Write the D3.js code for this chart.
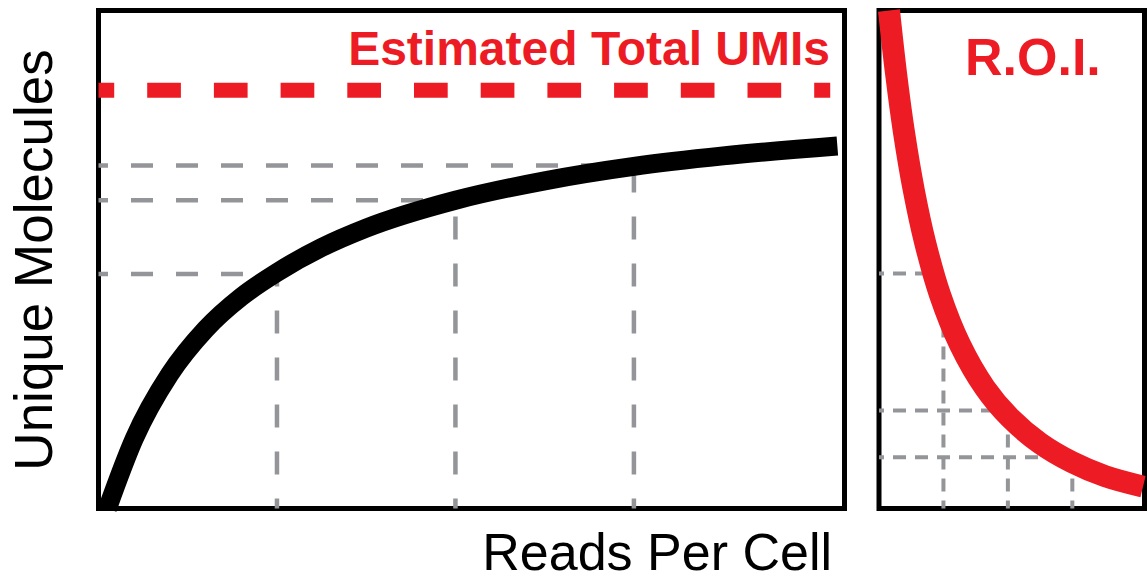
<!DOCTYPE html>
<html>
<head>
<meta charset="utf-8">
<script src="https://cdn.jsdelivr.net/npm/d3@7"></script>
<style>
  html, body { margin: 0; padding: 0; background: #fff; }
  #chart { width: 1147px; height: 581px; }
  text { font-family: "Liberation Sans", Arial, Helvetica, sans-serif; }
</style>
</head>
<body>
<div id="chart"></div>
<script>
// saturation curve (left panel)
const readsPerCell = [0.05, 0.2, 0.4, 0.6, 0.8, 1.0, 1.25, 1.5, 2.0, 2.5, 3.0, 3.5, 4.14];
const uniqueMolecules = [0, 14.0, 27.0, 36.0, 42.5, 47.4, 52.4, 56.3, 61.9, 65.8, 68.7, 70.8, 72.8];
const estimatedTotal = 84.0;
const estimatedTotalEnd = 4.10;

// guide points on the saturation curve
const guideReads = [1, 2, 3];
const guideMolecules = [47.1, 61.9, 68.9];

// return on investment curve (right panel)
const roiX = [0.155, 0.264, 0.388, 0.543, 0.714, 0.947, 1.257, 1.645, 2.033, 2.499, 2.995, 3.507, 4.097];
const roiY = [100, 87.4, 75.5, 63.7, 53.5, 42.9, 32.9, 24.2, 18.2, 13.1, 9.3, 6.5, 4.4];

// guide points on the R.O.I. curve
const roiGuideX = [1, 2, 3];
const roiGuideY = [47.2, 19.7, 10.3];

const labels = {
    total: "Estimated Total UMIs",
    roi: "R.O.I.",
    x: "Reads Per Cell",
    y: "Unique Molecules"
};

function renderChart(containerSelector) {
    const container = d3.select(containerSelector);
    const width = 1147;
    const height = 581;

    container.selectAll("*").remove();

    const svg = container.append("svg")
        .attr("width", width)
        .attr("height", height);

    const red = "#ed1c24";
    const gray = "#939598";

    const y = d3.scaleLinear().domain([0, 100]).range([508.5, 10.5]);
    const x = d3.scaleLinear().domain([0, 4.18]).range([98.5, 844.5]);
    const xr = d3.scaleLinear().domain([0, 4.12]).range([879, 1144.5]);

    // Frames
    [x, xr].forEach(sc => {
        svg.append("rect")
            .attr("x", sc.range()[0])
            .attr("y", y.range()[1])
            .attr("width", sc.range()[1] - sc.range()[0])
            .attr("height", y.range()[0] - y.range()[1])
            .attr("fill", "#fff")
            .attr("stroke", "#000")
            .attr("stroke-width", 5);
    });

    // Left guides
    const guides = guideReads.map((g, i) => ({ gx: g, gy: guideMolecules[i] }));
    svg.selectAll(".vguide")
        .data(guides)
        .join("line")
        .attr("class", "vguide")
        .attr("x1", d => x(d.gx)).attr("x2", d => x(d.gx))
        .attr("y1", y(0)).attr("y2", d => y(d.gy))
        .attr("stroke", gray).attr("stroke-width", 4.5)
        .attr("stroke-dasharray", "23,24").attr("stroke-dashoffset", 13);
    svg.selectAll(".hguide")
        .data(guides)
        .join("line")
        .attr("class", "hguide")
        .attr("x1", x(0)).attr("x2", d => x(d.gx))
        .attr("y1", d => y(d.gy)).attr("y2", d => y(d.gy))
        .attr("stroke", gray).attr("stroke-width", 4.5)
        .attr("stroke-dasharray", "22,23").attr("stroke-dashoffset", 12.5);

    // Right guides
    const roiGuides = roiGuideX.map((g, i) => ({ gx: g, gy: roiGuideY[i] }));
    svg.selectAll(".vguide-r")
        .data(roiGuides)
        .join("line")
        .attr("class", "vguide-r")
        .attr("x1", d => xr(d.gx)).attr("x2", d => xr(d.gx))
        .attr("y1", y(0)).attr("y2", d => y(d.gy))
        .attr("stroke", gray).attr("stroke-width", 4)
        .attr("stroke-dasharray", "13,9").attr("stroke-dashoffset", 5);
    svg.selectAll(".hguide-r")
        .data(roiGuides)
        .join("line")
        .attr("class", "hguide-r")
        .attr("x1", xr(0)).attr("x2", d => xr(d.gx))
        .attr("y1", d => y(d.gy)).attr("y2", d => y(d.gy))
        .attr("stroke", gray).attr("stroke-width", 4)
        .attr("stroke-dasharray", "13,9").attr("stroke-dashoffset", 8);

    // Estimated total line
    svg.append("line")
        .attr("x1", x(0)).attr("x2", x(estimatedTotalEnd))
        .attr("y1", y(estimatedTotal)).attr("y2", y(estimatedTotal))
        .attr("stroke", red).attr("stroke-width", 15)
        .attr("stroke-dasharray", "33.7,33").attr("stroke-dashoffset", 18);

    // Curves
    const satLine = d3.line()
        .x(d => x(d[0]))
        .y(d => y(d[1]))
        .curve(d3.curveMonotoneX);
    svg.append("path")
        .datum(d3.zip(readsPerCell, uniqueMolecules))
        .attr("d", satLine)
        .attr("fill", "none")
        .attr("stroke", "#000")
        .attr("stroke-width", 19);

    const roiLine = d3.line()
        .x(d => xr(d[0]))
        .y(d => y(d[1]))
        .curve(d3.curveCatmullRom.alpha(0.5));
    svg.append("path")
        .datum(d3.zip(roiX, roiY))
        .attr("d", roiLine)
        .attr("fill", "none")
        .attr("stroke", red)
        .attr("stroke-width", 22);

    // Labels
    svg.append("text")
        .attr("x", 830).attr("y", 65)
        .attr("text-anchor", "end")
        .style("font-size", "48px").style("font-weight", "bold")
        .attr("fill", red)
        .text(labels.total);

    svg.append("text")
        .attr("x", 965).attr("y", 75)
        .style("font-size", "52px").style("font-weight", "bold")
        .attr("fill", red)
        .text(labels.roi);

    svg.append("text")
        .attr("x", 832).attr("y", 569.5)
        .attr("text-anchor", "end")
        .style("font-size", "52px")
        .attr("fill", "#000")
        .text(labels.x);

    svg.append("text")
        .attr("transform", "translate(52,260) rotate(-90)")
        .attr("text-anchor", "middle")
        .style("font-size", "53px")
        .attr("fill", "#000")
        .text(labels.y);
}

renderChart("#chart");
</script>
</body>
</html>
